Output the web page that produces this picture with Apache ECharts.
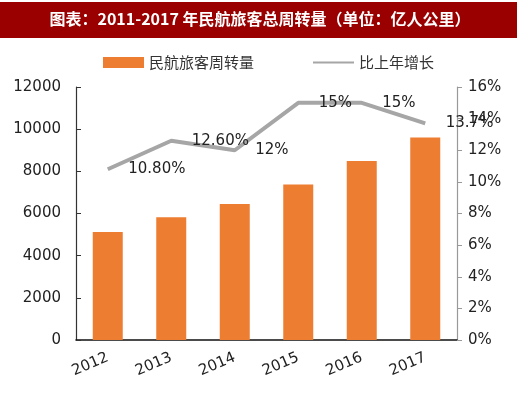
<!DOCTYPE html>
<html>
<head>
<meta charset="utf-8">
<script src="https://cdn.jsdelivr.net/npm/echarts@6/dist/echarts.min.js"></script>
<style>
html,body{margin:0;padding:0;background:#fff;}
#c{width:520px;height:393px;}
</style>
</head>
<body>
<div id="c"></div>
<script>
var categories = ['2012', '2013', '2014', '2015', '2016', '2017'];
var turnover = [5120, 5820, 6450, 7370, 8490, 9610];
var growth = [0.108, 0.126, 0.12, 0.15, 0.15, 0.137];
var growthLabels = ['10.80%', '12.60%', '12%', '15%', '15%', '13.7%'];
var leftTicks = [0, 12000, 2000];
var rightTicks = [0, 0.16, 0.02];
var titleText = '图表：2011-2017 年民航旅客总周转量（单位：亿人公里）';
var seriesNames = ['民航旅客周转量', '比上年增长'];

var chart = echarts.init(document.getElementById('c'), null, {renderer: 'canvas'});
var numFont = 'DejaVu Sans';
var option = {
  animation: false,
  backgroundColor: '#fff',
  graphic: [
    {type: 'rect', left: 0, top: 2, shape: {width: 517, height: 36}, style: {fill: '#9B0000'}, z: 0},
    {type: 'text', left: 'center', top: 11, style: {text: titleText, fill: '#fff', font: 'bold 16px "Noto Sans CJK SC"'}, z: 1}
  ],
  legend: {
    left: 98, top: 50,
    itemWidth: 41, itemHeight: 11, itemGap: 58,
    textStyle: {fontSize: 15, color: '#333', fontFamily: 'Noto Sans CJK SC'},
    data: [
      {name: seriesNames[0], icon: 'rect'},
      {name: seriesNames[1], itemStyle: {opacity: 0}}
    ]
  },
  grid: {left: 76, right: 63, top: 87, bottom: 53},
  xAxis: {
    type: 'category',
    data: categories,
    boundaryGap: true,
    axisLine: {lineStyle: {color: '#111', width: 1.5}},
    axisTick: {inside: true, length: 5, lineStyle: {color: '#555'}},
    axisLabel: {rotate: 23, margin: 17, fontSize: 15, color: '#222', fontFamily: numFont}
  },
  yAxis: [
    {
      type: 'value', min: leftTicks[0], max: leftTicks[1], interval: leftTicks[2],
      axisLine: {show: true, lineStyle: {color: '#333', width: 1.2}},
      axisTick: {show: true, inside: true, length: 5, lineStyle: {color: '#333'}},
      splitLine: {show: false},
      axisLabel: {margin: 15, fontSize: 15, color: '#222', fontFamily: numFont,
        formatter: function (v) { return String(v); }}
    },
    {
      type: 'value', min: rightTicks[0], max: rightTicks[1], interval: rightTicks[2],
      axisLine: {show: true, lineStyle: {color: '#999', width: 1.2}},
      axisTick: {show: true, inside: false, length: 5, lineStyle: {color: '#999'}},
      splitLine: {show: false},
      axisLabel: {margin: 11, fontSize: 15, color: '#222', fontFamily: numFont,
        formatter: function (v) { return Math.round(v * 100) + '%'; }}
    }
  ],
  series: [
    {
      name: seriesNames[0], type: 'bar', data: turnover, barWidth: 30,
      itemStyle: {color: '#ED7D31'}, z: 2
    },
    {
      name: seriesNames[1], type: 'line', yAxisIndex: 1, data: growth,
      symbol: 'none', z: 3,
      lineStyle: {color: '#A6A6A6', width: 4},
      itemStyle: {color: '#A6A6A6'}
    },
    {
      name: 'labels', type: 'line', yAxisIndex: 1, data: growth,
      symbol: 'circle', symbolSize: 1, showSymbol: true, z: 4, silent: true,
      lineStyle: {width: 0, color: 'rgba(0,0,0,0)'},
      itemStyle: {color: 'rgba(0,0,0,0)', borderWidth: 0},
      label: {
        show: true, position: 'right', distance: 20, offset: [0, 2],
        fontSize: 15, color: '#222', fontFamily: numFont,
        formatter: function (p) { return growthLabels[p.dataIndex]; }
      },
      labelLayout: {hideOverlap: false}
    }
  ]
};
chart.setOption(option);
</script>
</body>
</html>
